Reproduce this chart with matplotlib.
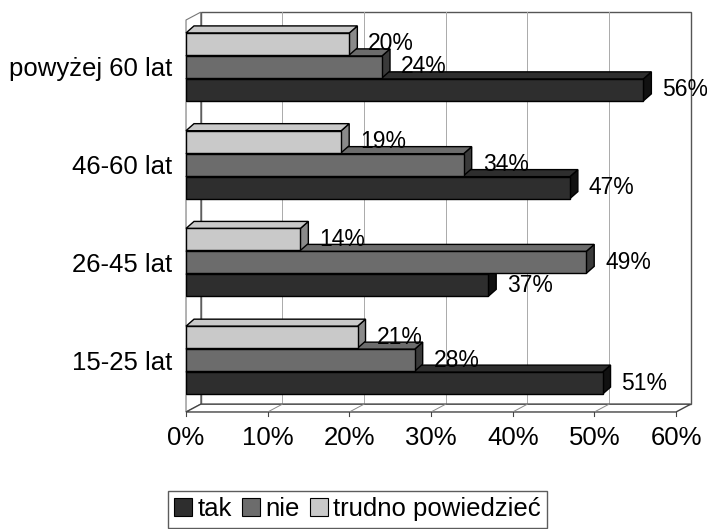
import matplotlib.pyplot as plt
from matplotlib.patches import Polygon, Patch

plt.rcParams['font.family'] = ['Liberation Sans', 'DejaVu Sans']

categories = ['15-25 lat', '26-45 lat', '46-60 lat', 'powyżej 60 lat']
series = ['tak', 'nie', 'trudno powiedzieć']
tak = [51, 37, 47, 56]
nie = [28, 49, 34, 24]
trudno = [21, 14, 19, 20]
ticks = [0, 10, 20, 30, 40, 50, 60]

colors = ['#2e2e2e', '#6c6c6c', '#c9c9c9']
sides = ['#111111', '#3a3a3a', '#8a8a8a']

fig = plt.figure(figsize=(7.07, 5.29), dpi=100)
ax = fig.add_axes([0.2631, 0.2212, 0.6931, 0.741])
ax.set_xlim(0, 60)
ax.set_ylim(-0.53, 3.48)

# depth of bars and of the chart box, in data units
bdx, bdy = 0.98, 0.072
wdx, wdy = 1.8, 0.08
ylo, yhi = -0.53, 3.48

# back wall, side wall and floor
ax.add_patch(Polygon([(wdx, ylo + wdy), (60 + wdx, ylo + wdy), (60 + wdx, yhi + wdy), (wdx, yhi + wdy)],
                     closed=True, fc='white', ec='#555555', lw=1, clip_on=False, zorder=0))
ax.add_patch(Polygon([(0, ylo), (wdx, ylo + wdy), (wdx, yhi + wdy), (0, yhi)],
                     closed=True, fc='white', ec='#777777', lw=0.8, clip_on=False, zorder=0))
ax.add_patch(Polygon([(0, ylo), (60, ylo), (60 + wdx, ylo + wdy), (wdx, ylo + wdy)],
                     closed=True, fc='white', ec='#444444', lw=1, clip_on=False, zorder=1))
for t in ticks[1:-1]:
    ax.plot([t + wdx, t + wdx], [ylo + wdy, yhi + wdy], color='#aaaaaa', lw=0.7, zorder=0.5, clip_on=False)
    ax.plot([t, t + wdx], [ylo, ylo + wdy], color='#888888', lw=0.7, zorder=1.5, clip_on=False)
for t in ticks:
    ax.plot([t, t], [ylo, ylo - 0.04], color='#444444', lw=0.8, clip_on=False)

h = 0.225
offsets = [-0.235, 0.0, 0.235]
data = [tak, nie, trudno]

for k, vals in enumerate(data):
    for g, v in enumerate(vals):
        y = g + offsets[k]
        y0, y1 = y - h / 2, y + h / 2
        z = 3 + k
        # right side face
        ax.add_patch(Polygon([(v, y0), (v + bdx, y0 + bdy), (v + bdx, y1 + bdy), (v, y1)],
                             closed=True, fc=sides[k], ec='black', lw=1, zorder=z, clip_on=False))
        # top face
        ax.add_patch(Polygon([(0, y1), (v, y1), (v + bdx, y1 + bdy), (bdx, y1 + bdy)],
                             closed=True, fc=colors[k], ec='black', lw=1, zorder=z, clip_on=False))
        ax.barh(y, v, height=h, left=0, color=colors[k], edgecolor='black', lw=1, zorder=z + 0.1)
        ax.annotate(f'{v}%', (v + bdx, y), xytext=(11, 0), textcoords='offset pixels',
                    ha='left', va='center', fontsize=16.5, zorder=10, annotation_clip=False)

ax.set_xticks(ticks)
ax.set_xticklabels([f'{t}%' for t in ticks], fontsize=18.5)
ax.set_yticks(range(len(categories)))
ax.set_yticklabels(categories, fontsize=18.5)
ax.tick_params(length=0, pad=10)
ax.tick_params(axis='y', pad=10)
for s in ax.spines.values():
    s.set_visible(False)

handles = [Patch(facecolor=c, edgecolor='black', lw=0.8) for c in colors]
fig.legend(handles, series, loc='upper left', bbox_to_anchor=(155 / 707, 1 - 478 / 529),
           ncol=3, fontsize=18.5, handlelength=0.7, handleheight=0.7, handletextpad=0.2,
           columnspacing=0.4, frameon=True, fancybox=False, edgecolor='#333333', borderpad=0.25)

plt.savefig('out.png', dpi=100)
